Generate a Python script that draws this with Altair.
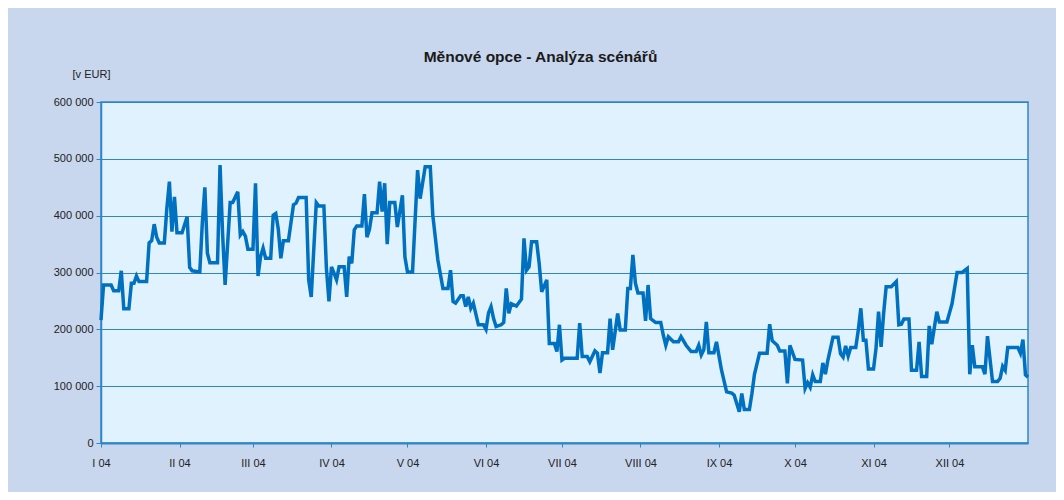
import altair as alt
import pandas as pd

# Day of year 2004 (0 = 1 Jan 2004) and value in EUR
days = [0, 1, 4, 5, 7, 8, 9, 11, 12, 13, 14, 15, 18, 19, 20, 21, 22, 23, 25, 26, 27, 28, 29, 30, 32, 34, 35, 36, 39, 40,
        41, 42, 43, 46, 47, 48, 49, 51, 52, 54, 55, 56, 57, 58, 60, 61, 62, 63, 64, 65, 67, 68, 69, 70, 71, 72, 74, 76, 77, 78,
        81, 82, 83, 85, 86, 88, 89, 90, 91, 92, 93, 94, 96, 97, 98, 99, 100, 101, 103, 104, 105, 106, 107, 109, 110, 111, 112, 113, 114, 116,
        117, 119, 120, 121, 123, 125, 126, 128, 130, 131, 133, 135, 137, 138, 139, 140, 142, 143, 144, 145, 146, 147, 149, 151, 152, 153, 154, 155, 156, 158,
        159, 160, 161, 162, 164, 166, 167, 168, 169, 170, 172, 173, 174, 176, 177, 179, 180, 181, 182, 183, 188, 189, 190, 192, 193, 195, 196, 197, 198, 200,
        201, 202, 204, 205, 207, 208, 209, 210, 211, 212, 214, 215, 216, 217, 219, 221, 222, 223, 224, 226, 228, 229, 231, 233, 235, 236, 237, 238, 239, 240,
        242, 243, 245, 247, 249, 250, 252, 253, 254, 256, 257, 258, 260, 263, 264, 265, 267, 268, 270, 271, 272, 274, 277, 278, 279, 280, 281, 282, 284, 285,
        286, 287, 289, 291, 292, 293, 294, 295, 296, 298, 299, 300, 301, 302, 303, 305, 306, 307, 308, 309, 310, 312, 314, 315, 316, 317, 319, 320, 322, 323,
        324, 326, 327, 328, 330, 331, 334, 335, 336, 338, 340, 342, 343, 344, 345, 348, 349, 350, 352, 354, 355, 356, 357, 358, 362, 363, 364, 365, 366]

values = [216000, 278000, 278000, 268000, 268000, 303000, 236000, 236000, 281000, 281000, 294000, 284000, 284000, 352000, 356000, 385000, 362000, 352000, 352000, 413000,
          460000, 372000, 433000, 370000, 370000, 398000, 309000, 303000, 301000, 387000, 450000, 334000, 317000, 317000, 489000, 369000, 278000, 423000, 423000, 442000,
          366000, 372000, 364000, 341000, 341000, 457000, 294000, 328000, 343000, 325000, 325000, 401000, 404000, 376000, 325000, 356000, 356000, 419000, 422000, 432000,
          432000, 287000, 257000, 423000, 417000, 417000, 307000, 249000, 310000, 299000, 287000, 310000, 310000, 257000, 328000, 316000, 375000, 382000, 382000, 438000,
          362000, 376000, 405000, 405000, 460000, 407000, 457000, 350000, 423000, 423000, 380000, 436000, 327000, 301000, 301000, 480000, 430000, 486000, 486000, 401000,
          322000, 272000, 272000, 304000, 249000, 246000, 259000, 259000, 240000, 257000, 237000, 246000, 208000, 208000, 200000, 229000, 240000, 219000, 205000, 208000,
          212000, 272000, 228000, 245000, 241000, 253000, 360000, 304000, 310000, 354000, 354000, 316000, 266000, 287000, 175000, 175000, 161000, 208000, 146000, 149000,
          149000, 211000, 152000, 152000, 143000, 162000, 158000, 123000, 159000, 159000, 219000, 164000, 228000, 199000, 199000, 272000, 272000, 331000, 281000, 264000,
          264000, 215000, 278000, 219000, 212000, 212000, 190000, 172000, 187000, 178000, 178000, 187000, 172000, 161000, 161000, 172000, 155000, 164000, 213000, 159000,
          159000, 178000, 128000, 90000, 88000, 84000, 55000, 87000, 59000, 59000, 87000, 121000, 158000, 158000, 209000, 180000, 172000, 162000, 162000, 105000,
          172000, 147000, 146000, 96000, 106000, 98000, 120000, 108000, 108000, 141000, 121000, 146000, 186000, 186000, 157000, 151000, 171000, 153000, 168000, 168000,
          199000, 237000, 181000, 181000, 130000, 130000, 167000, 231000, 169000, 228000, 275000, 275000, 284000, 208000, 209000, 218000, 218000, 128000, 128000, 178000,
          117000, 117000, 206000, 174000, 231000, 213000, 213000, 229000, 245000, 300000, 300000, 307000, 121000, 172000, 134000, 134000, 121000, 188000, 108000, 108000,
          114000, 135000, 128000, 168000, 168000, 158000, 182000, 120000, 116000]

month_starts = [0, 31, 60, 91, 121, 152, 182, 213, 244, 274, 305, 335]
month_labels = ["I 04", "II 04", "III 04", "IV 04", "V 04", "VI 04", "VII 04",
                "VIII 04", "IX 04", "X 04", "XI 04", "XII 04"]
y_ticks = [0, 100000, 200000, 300000, 400000, 500000, 600000]

df = pd.DataFrame({"day": days, "value": values})

label_expr = "[" + ",".join("'%s'" % s for s in month_labels) + "][indexof([" + \
    ",".join(str(d) for d in month_starts) + "], datum.value)]"

BLUE = "#2F86C6"
FONT = "Liberation Sans"

chart = alt.Chart(df).mark_line(color="#0070C0", strokeWidth=3.5).encode(
    x=alt.X("day:Q",
            scale=alt.Scale(domain=[0, 366], nice=False, zero=False),
            axis=alt.Axis(values=month_starts, labelExpr=label_expr, title=None,
                          grid=False, domainColor=BLUE, domainWidth=2,
                          tickColor=BLUE, tickSize=4, labelPadding=10,
                          labelFlush=False,
                          labelFontSize=11, labelFont=FONT, labelColor="#222")),
    y=alt.Y("value:Q",
            scale=alt.Scale(domain=[0, 600000], nice=False),
            axis=alt.Axis(values=y_ticks,
                          labelExpr="replace(format(datum.value, ','), ',', ' ')",
                          title="[v EUR]", titleAngle=0, titleX=-10, titleY=-28,
                          titleAlign="center", titleBaseline="middle",
                          titleFontWeight="normal", titleFontSize=11, titleFont=FONT,
                          titleColor="#222",
                          grid=True, gridColor=BLUE, gridWidth=1.2,
                          domainColor=BLUE, domainWidth=1.5,
                          tickColor=BLUE, tickSize=5, labelPadding=3,
                          labelFontSize=11, labelFont=FONT, labelColor="#222")),
).properties(
    width=927,
    height=341,
    autosize=alt.AutoSizeParams(type="none"),
    padding={"left": 93, "top": 94, "right": 28, "bottom": 49},
    background="#C8D6EE",
    title=alt.TitleParams("Měnové opce - Analýza scénářů", fontSize=15.5,
                          fontWeight="bold", font=FONT, color="#1a1a1a",
                          anchor="middle", frame="group", dx=-24, offset=3),
).configure_view(
    fill="#E0F2FD", stroke=BLUE, strokeWidth=1.5
)

chart.save("out.html", embed_options={"renderer": "svg", "actions": False})
